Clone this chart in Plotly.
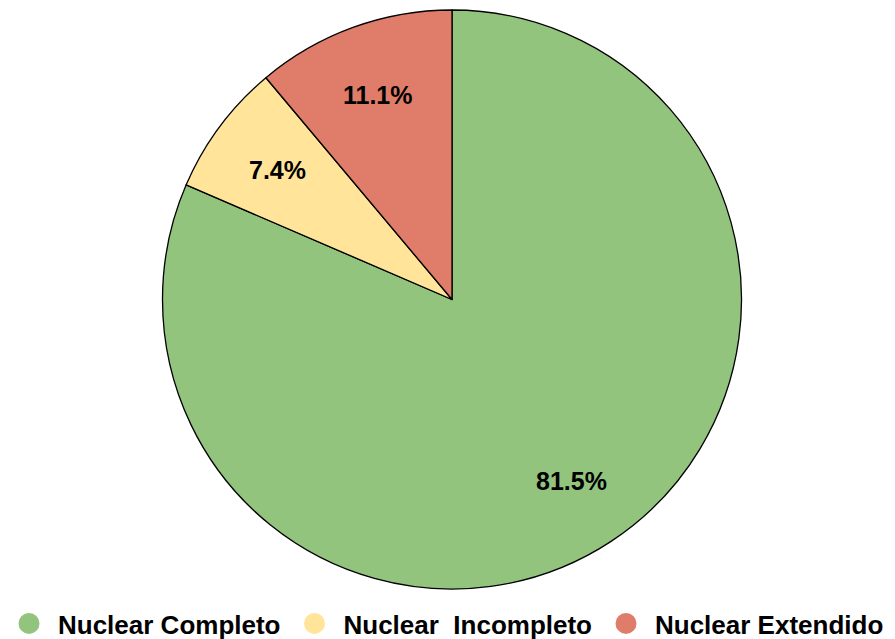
import math
import plotly.graph_objects as go

# Distribution of nuclear family types (counts)
categories = ["Nuclear Completo", "Nuclear  Incompleto", "Nuclear Extendido"]
counts = [22, 2, 3]
colors = ["#93C47D", "#FFE49A", "#DF7C6A"]

FONT = "Liberation Sans, Arial, sans-serif"
W, H = 895, 639
M = dict(l=9, r=0, t=10, b=50)

fig = go.Figure()

fig.add_trace(go.Pie(
    labels=categories,
    values=counts,
    sort=False,
    direction="clockwise",
    rotation=0,
    marker=dict(colors=colors, line=dict(color="#000000", width=1.3)),
    textinfo="none",
    showlegend=False,
    hoverinfo="label+percent",
))

# Percentage labels placed at 3/4 of the radius along each slice's mid-angle
plot_w = W - M["l"] - M["r"]
plot_h = H - M["t"] - M["b"]
radius_px = min(plot_w, plot_h) / 2
total = sum(counts)
cum = 0
for c in counts:
    mid = (cum + c / 2) / total * 2 * math.pi
    cum += c
    d = 0.75 * radius_px
    fig.add_annotation(
        x=0.5 + d * math.sin(mid) / plot_w,
        y=0.5 + d * math.cos(mid) / plot_h,
        xref="paper", yref="paper", xanchor="center", yanchor="middle",
        showarrow=False,
        text=f"<b>{c / total * 100:.1f}%</b>",
        font=dict(family=FONT, size=25, color="#000000"),
    )

# Legend entries with circular markers
for name, col in zip(categories, colors):
    fig.add_trace(go.Scatter(
        x=[None], y=[None], mode="markers", name=name.replace("  ", " \u00a0"),
        marker=dict(symbol="circle", size=16, color=col, line=dict(color=col, width=5)),
    ))

fig.update_layout(
    width=W, height=H,
    margin=M,
    paper_bgcolor="white", plot_bgcolor="white",
    xaxis=dict(visible=False), yaxis=dict(visible=False),
    legend=dict(
        orientation="h", x=0.49, xanchor="center",
        yref="container", y=0.061, yanchor="top",
        font=dict(family=FONT, size=26, color="#000000", weight="bold"),
        itemsizing="trace", itemwidth=48,
    ),
)

fig.write_html("out.html")
